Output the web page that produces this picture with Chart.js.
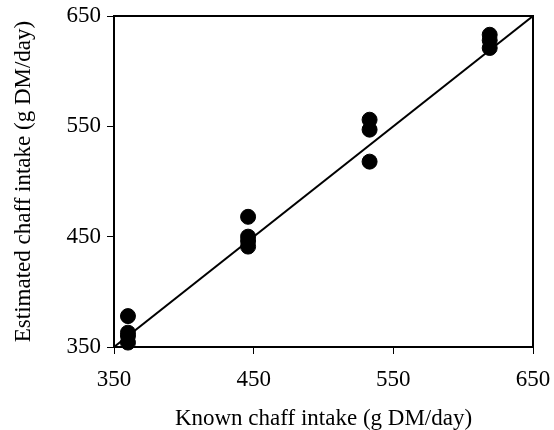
<!DOCTYPE html>
<html>
<head>
<meta charset="utf-8">
<script src="https://cdn.jsdelivr.net/npm/chart.js@4"></script>
<style>
  html, body { margin: 0; padding: 0; background: #fff; }
  #wrap { width: 554px; height: 430px; }
</style>
</head>
<body>
<div id="wrap"><canvas id="chart" width="554" height="430"></canvas></div>
<script>
// Known vs estimated chaff intake (g DM/day)
const knownIntake = [360, 360, 360, 360, 446, 446, 446, 446, 533, 533, 533, 619, 619, 619];
const estimatedIntake = [378, 363, 360, 354, 468, 450, 446, 441, 556, 547, 518, 633, 628, 621];
const lineX = [350, 650];
const lineY = [350, 650];
const tickValues = [350, 450, 550, 650];

const FONT = 'Liberation Serif';
const FSIZE = 23;

// box around the plot area
const frame = {
    id: 'frame',
    afterDraw(chart) {
        const a = chart.chartArea;
        const ctx = chart.ctx;
        ctx.save();
        ctx.strokeStyle = '#000';
        ctx.lineWidth = 2;
        ctx.strokeRect(a.left, a.top, a.right - a.left, a.bottom - a.top);
        ctx.restore();
    }
};

const ctx = document.getElementById('chart').getContext('2d');
new Chart(ctx, {
    type: 'scatter',
    data: {
        datasets: [
            {
                label: 'Observed',
                data: knownIntake.map((x, i) => ({ x: x, y: estimatedIntake[i] })),
                backgroundColor: '#000',
                borderColor: '#000',
                pointRadius: 7.5,
                pointHoverRadius: 7.5,
                clip: false
            },
            {
                label: '1:1',
                data: lineX.map((x, i) => ({ x: x, y: lineY[i] })),
                showLine: true,
                borderColor: '#000',
                borderWidth: 2,
                pointRadius: 0
            }
        ]
    },
    options: {
        responsive: false,
        animation: false,
        layout: { padding: { left: 0, right: 21, top: 16, bottom: 0 } },
        plugins: {
            legend: { display: false },
            tooltip: { enabled: false }
        },
        scales: {
            x: {
                type: 'linear',
                min: 350, max: 650,
                afterBuildTicks: s => { s.ticks = tickValues.map(v => ({ value: v })); },
                afterFit: s => { s.height = 83; s.paddingLeft = 0; s.paddingRight = 0; },
                grid: { drawOnChartArea: false, color: '#000', tickLength: 7, lineWidth: 1 },
                border: { color: '#000', width: 2 },
                ticks: { color: '#000', font: { family: FONT, size: FSIZE }, padding: 12, maxRotation: 0 },
                title: { display: true, text: 'Known chaff intake (g DM/day)', color: '#000', font: { family: FONT, size: FSIZE, lineHeight: 1 }, padding: { top: 4, bottom: 0 } }
            },
            y: {
                type: 'linear',
                min: 350, max: 650,
                afterBuildTicks: s => { s.ticks = tickValues.map(v => ({ value: v })); },
                afterFit: s => { s.width = 114; s.paddingTop = 0; s.paddingBottom = 0; },
                grid: { drawOnChartArea: false, color: '#000', tickLength: 7, lineWidth: 1 },
                border: { color: '#000', width: 2 },
                ticks: { color: '#000', font: { family: FONT, size: FSIZE }, padding: 6 },
                title: { display: true, text: 'Estimated chaff intake (g DM/day)', color: '#000', font: { family: FONT, size: FSIZE }, padding: { top: 10, bottom: 0 } }
            }
        }
    },
    plugins: [frame]
});
</script>
</body>
</html>
